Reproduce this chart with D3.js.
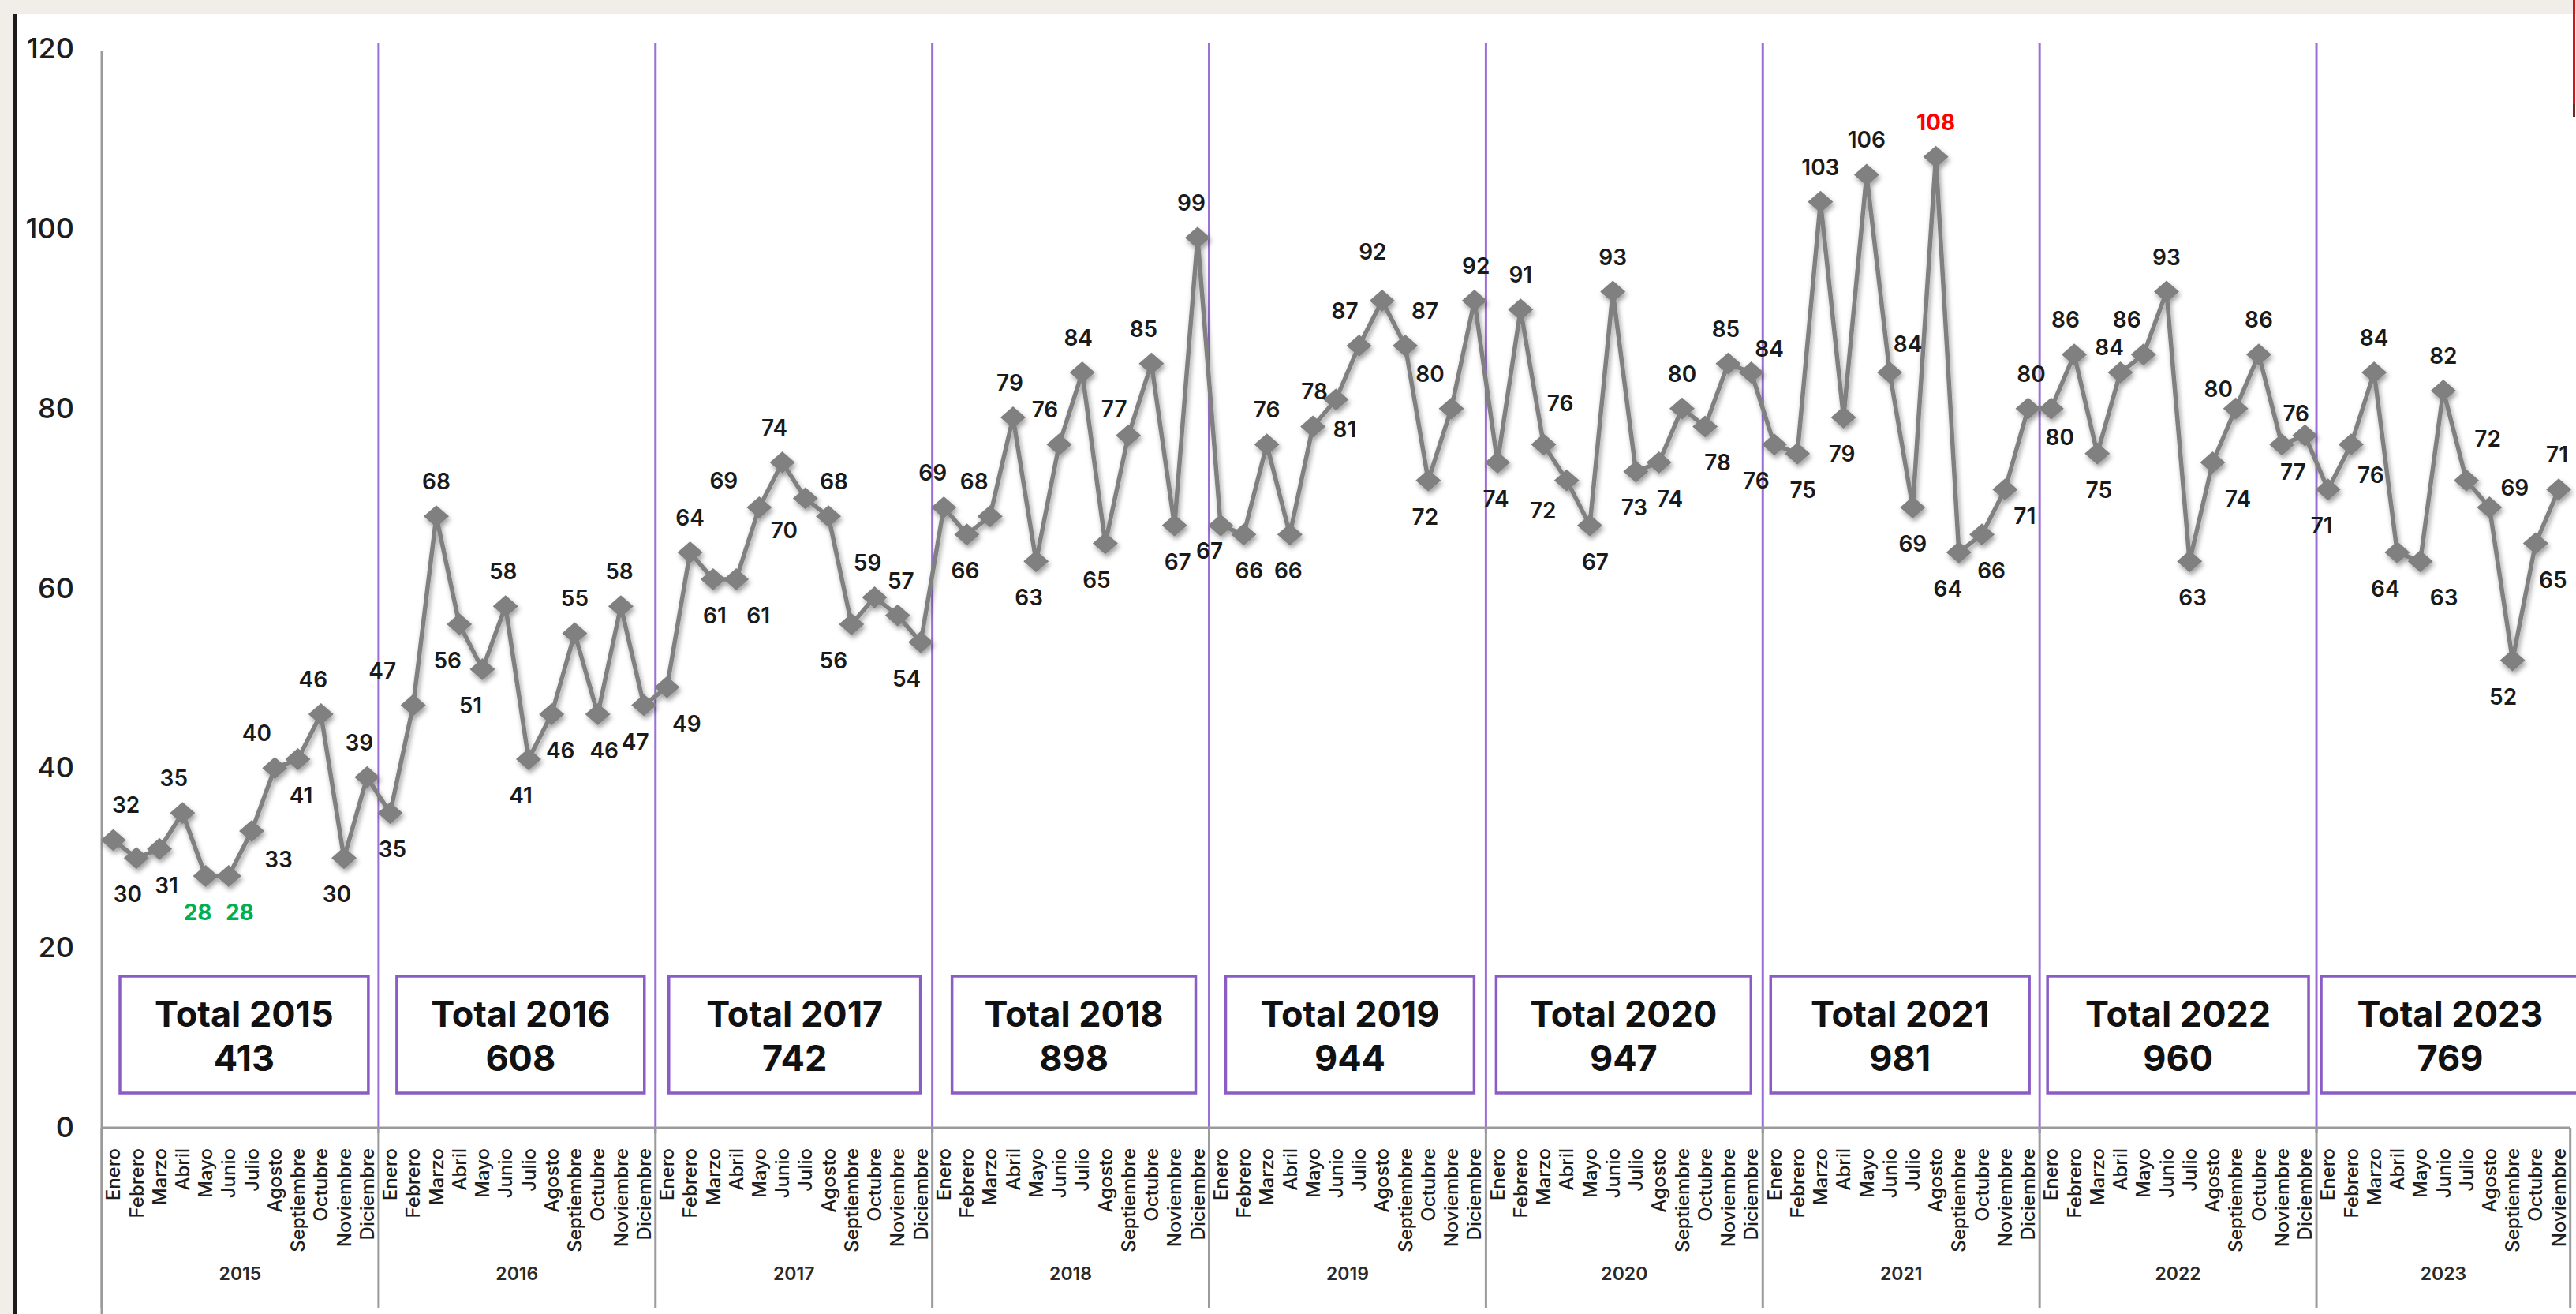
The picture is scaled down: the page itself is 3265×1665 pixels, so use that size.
<!DOCTYPE html>
<html>
<head>
<meta charset="utf-8">
<script src="https://cdn.jsdelivr.net/npm/d3@7"></script>
<style>
  html, body { margin: 0; padding: 0; background: #f1eeea; }
  svg { display: block; }
  text { font-family: Inter, "Noto Sans", sans-serif; }
</style>
</head>
<body>
<svg id="chart" width="3265" height="1665"></svg>
<script>
// ---------------- data ----------------
const months = ["Enero","Febrero","Marzo","Abril","Mayo","Junio","Julio","Agosto","Septiembre","Octubre","Noviembre","Diciembre"];
const years = [2015, 2016, 2017, 2018, 2019, 2020, 2021, 2022, 2023];
const v2015 = [32, 30, 31, 35, 28, 28, 33, 40, 41, 46, 30, 39];
const v2016 = [35, 47, 68, 56, 51, 58, 41, 46, 55, 46, 58, 47];
const v2017 = [49, 64, 61, 61, 69, 74, 70, 68, 56, 59, 57, 54];
const v2018 = [69, 66, 68, 79, 63, 76, 84, 65, 77, 85, 67, 99];
const v2019 = [67, 66, 76, 66, 78, 81, 87, 92, 87, 72, 80, 92];
const v2020 = [74, 91, 76, 72, 67, 93, 73, 74, 80, 78, 85, 84];
const v2021 = [76, 75, 103, 79, 106, 84, 69, 108, 64, 66, 71, 80];
const v2022 = [80, 86, 75, 84, 86, 93, 63, 74, 80, 86, 76, 77];
const v2023 = [71, 76, 84, 64, 63, 82, 72, 69, 52, 65, 71];
const yearValues = [v2015, v2016, v2017, v2018, v2019, v2020, v2021, v2022, v2023];
const totals = [413, 608, 742, 898, 944, 947, 981, 960, 769];
const yTicks = [0, 20, 40, 60, 80, 100, 120];

// ---------------- label placement (layout only) ----------------
// [dx, dy] of each value label relative to its marker; 'a' = above, 'b' = below
const labelPlace = [
  [[16,'a'],[-11,'b'],[9,'b'],[-11,'a'],[-10,'b'],[14,'b'],[34,36],[-23,'a'],[4,'b'],[-10,'a'],[-9,'b'],[-10,'a']],
  [[3,'b'],[-39,'a'],[0,'a'],[-15,'b'],[-15,'b'],[-3,'a'],[-10,'b'],[11,'b'],[0,'a'],[8,'b'],[-2,'a'],[-11,'b']],
  [[25,'b'],[0,'a'],[2,'b'],[28,'b'],[-45,-34],[-10,'a'],[-27,40],[7,'a'],[-23,'b'],[-9,'a'],[4,'a'],[-18,'b']],
  [[-14,'a'],[-2,'b'],[-20,'a'],[-4,'a'],[-9,'b'],[-18,'a'],[-5,'a'],[-11,'b'],[-18,-34],[-10,'a'],[4,'b'],[-8,'a']],
  [[-14,32],[7,'b'],[0,'a'],[-2,'b'],[2,'a'],[11,38],[-18,'a'],[-12,-62],[25,'a'],[-4,'b'],[-27,'a'],[2,'a']],
  [[-2,'b'],[0,'a'],[21,-52],[-30,38],[7,'b'],[0,'a'],[-2,'b'],[14,'b'],[0,'a'],[16,'b'],[-3,'a'],[23,-30]],
  [[-23,'b'],[7,'b'],[0,'a'],[-2,'b'],[0,'a'],[23,-36],[0,'b'],[0,'a'],[-14,'b'],[12,'b'],[25,34],[4,'a']],
  [[11,36],[-11,'a'],[2,'b'],[-14,-32],[-21,'a'],[0,'a'],[4,'b'],[32,'b'],[-22,-25],[0,'a'],[18,-39],[-15,'b']],
  [[-8,'b'],[25,39],[0,'a'],[-15,'b'],[30,'b'],[0,'a'],[27,-53],[32,-25],[-12,'b'],[22,'b'],[-2,'a']]
];
// box insets from each year section [left, right] and text shift
const boxInsets = [[23,13],[23,14],[17,15],[25,17],[21,15],[13,15],[10,13],[10,10],[6,-30]];
const boxTextShift = [0, 0, 0, 0, 0, 0, 0, 0, -24];

// ---------------- build points ----------------
const points = [];
yearValues.forEach((arr, yi) => arr.forEach((v, mi) => {
  points.push({ i: points.length, year: years[yi], yi, mi, month: months[mi], value: v, place: labelPlace[yi][mi] });
}));
const maxV = d3.max(points, d => d.value);
const minV = d3.min(points, d => d.value);

const svg = d3.select("#chart");
const W = 3265, H = 1665;

// background panel
svg.append("rect").attr("x", 0).attr("y", 0).attr("width", W).attr("height", H).attr("fill", "#f1eeea");
svg.append("rect").attr("x", 20).attr("y", 18).attr("width", W - 20).attr("height", H - 18).attr("fill", "#ffffff");
svg.append("rect").attr("x", 16).attr("y", 18).attr("width", 5).attr("height", H - 18).attr("fill", "#1c1c1c");
svg.append("rect").attr("x", 3261).attr("y", 0).attr("width", 3).attr("height", 132).attr("fill", "#cc1a1a");
svg.append("rect").attr("x", 3261).attr("y", 132).attr("width", 3).attr("height", 16).attr("fill", "#6b2a2a");

// scales
const x = d3.scaleBand().domain(d3.range(points.length)).range([129, 129 + 29.24 * points.length]).padding(0);
const y = d3.scaleLinear().domain([0, 120]).range([1429, 62]);
const cx = i => x(i) + x.bandwidth() / 2;
const xEnd = x.range()[1];

// shadow filter
const defs = svg.append("defs");
const f = defs.append("filter").attr("id", "shadow").attr("x", "-20%").attr("y", "-20%").attr("width", "140%").attr("height", "140%");
f.append("feDropShadow").attr("dx", 2).attr("dy", 4).attr("stdDeviation", 3).attr("flood-color", "#000").attr("flood-opacity", 0.38);

// y axis labels
const yAxis = d3.axisLeft(y).tickValues(yTicks).tickSize(0).tickPadding(35);
const gy = svg.append("g").attr("transform", "translate(129,0)").call(yAxis);
gy.select(".domain").remove();
gy.selectAll("text").attr("font-size", 36).attr("font-weight", 500).attr("fill", "#1e1e1e").style("font-family", "Inter, sans-serif");

// left gray axis line
svg.append("line").attr("x1", 129).attr("x2", 129).attr("y1", 64).attr("y2", H).attr("stroke", "#9b9b9b").attr("stroke-width", 3);

// year sections
const sectionStart = yi => x(yi * 12);
const sectionEnd = yi => (yi * 12 + 12 <= points.length) ? x(yi * 12 + 11) + x.bandwidth() : xEnd;

// purple dividers
svg.append("g").selectAll("line").data(years.slice(1)).join("line")
  .attr("x1", (d, k) => sectionStart(k + 1)).attr("x2", (d, k) => sectionStart(k + 1))
  .attr("y1", 54).attr("y2", 1436)
  .attr("stroke", "#9a70d6").attr("stroke-width", 3);

// x axis (month labels)
const xAxis = d3.axisBottom(x).tickSize(0).tickFormat(i => months[i % 12]);
const gx = svg.append("g").attr("transform", "translate(0,1429)").call(xAxis);
gx.select(".domain").remove();
gx.selectAll("text")
  .attr("transform", "rotate(-90)")
  .attr("x", -26).attr("y", 0).attr("dy", "0.36em")
  .style("text-anchor", "end")
  .attr("font-size", 24).attr("font-weight", 500).attr("fill", "#1e1e1e")
  .style("font-family", "Inter, sans-serif");

// horizontal axis line
svg.append("line").attr("x1", 129).attr("x2", xEnd).attr("y1", 1429).attr("y2", 1429).attr("stroke", "#9b9b9b").attr("stroke-width", 3);

// group separators below axis
const sepXs = years.map((d, k) => sectionStart(k)).concat([xEnd]);
svg.append("g").selectAll("line").data(sepXs).join("line")
  .attr("x1", d => d).attr("x2", d => d).attr("y1", 1429).attr("y2", H - 8)
  .attr("stroke", "#9b9b9b").attr("stroke-width", 3);

// year labels
svg.append("g").selectAll("text").data(years).join("text")
  .attr("x", (d, k) => (sectionStart(k) + sectionEnd(k)) / 2)
  .attr("y", 1614)
  .attr("text-anchor", "middle").attr("dominant-baseline", "central")
  .attr("font-size", 23).attr("font-weight", 600).attr("fill", "#2a2a2a")
  .text(d => d);

// total boxes
const boxes = svg.append("g");
years.forEach((yr, k) => {
  const x0 = sectionStart(k) + boxInsets[k][0];
  const x1 = (k * 12 + 12 <= points.length ? sectionEnd(k) : sectionStart(k) + 12 * x.bandwidth()) - boxInsets[k][1];
  const tx = (x0 + x1) / 2 + boxTextShift[k];
  boxes.append("rect").attr("x", x0).attr("y", 1237).attr("width", x1 - x0).attr("height", 148)
    .attr("fill", "#ffffff").attr("stroke", "#8a5cc6").attr("stroke-width", 3.5);
  boxes.append("text").attr("x", tx).attr("y", 1284)
    .attr("text-anchor", "middle").attr("dominant-baseline", "central")
    .attr("font-size", 45).attr("font-weight", 700).attr("fill", "#111")
    .text("Total " + yr);
  boxes.append("text").attr("x", tx).attr("y", 1340)
    .attr("text-anchor", "middle").attr("dominant-baseline", "central")
    .attr("font-size", 45).attr("font-weight", 700).attr("fill", "#111")
    .text(totals[k]);
});

// line + markers
const series = svg.append("g").attr("filter", "url(#shadow)");
series.append("path").datum(points)
  .attr("d", d3.line().x(d => cx(d.i)).y(d => y(d.value)))
  .attr("fill", "none").attr("stroke", "#808080").attr("stroke-width", 5.5).attr("stroke-linejoin", "round");
series.selectAll("path.m").data(points).join("path").attr("class", "m")
  .attr("d", d => { const X = cx(d.i), Y = y(d.value); return `M${X - 16},${Y} L${X},${Y - 14} L${X + 16},${Y} L${X},${Y + 14} Z`; })
  .attr("fill", "#808080");

// value labels
svg.append("g").selectAll("text").data(points).join("text")
  .attr("x", d => cx(d.i) + d.place[0])
  .attr("y", d => y(d.value) + (d.place[1] === 'a' ? -44 : d.place[1] === 'b' ? 46 : d.place[1]))
  .attr("text-anchor", "middle").attr("dominant-baseline", "central")
  .attr("font-size", 28).attr("font-weight", d => (d.value === maxV || d.value === minV) ? 700 : 600)
  .attr("fill", d => d.value === maxV ? "#ff0000" : d.value === minV ? "#00b050" : "#1a1a1a")
  .text(d => d.value);
</script>
</body>
</html>
